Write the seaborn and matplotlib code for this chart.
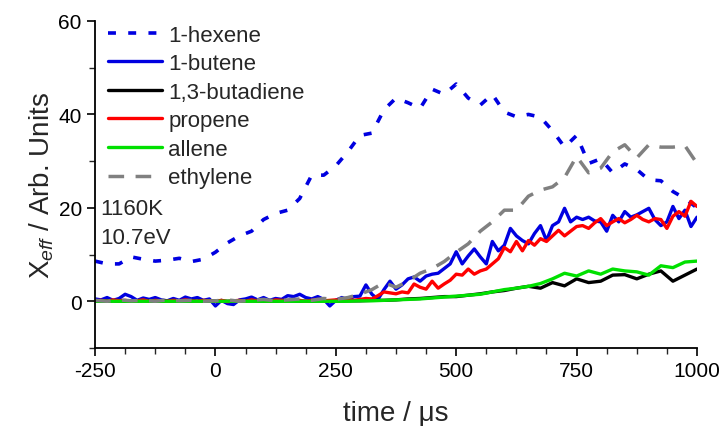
import numpy as np
import pandas as pd
import matplotlib
matplotlib.use("Agg")
import matplotlib.pyplot as plt
import seaborn as sns
from matplotlib.ticker import MultipleLocator

# ---------------- data ----------------
t_fine = np.arange(-250, 1000.1, 12.5)   # 12.5 us sampling
t_coarse = np.arange(-250, 1000.1, 25.0)  # 25 us sampling

hexene = [8.6, 8.0, 8.0, 9.5, 9.0, 8.6, 8.8, 9.2,
          8.5, 9.0, 10.5, 12.5, 14.0, 15.0, 17.5, 18.8,
          19.5, 22.0, 27.0, 27.0, 29.0, 32.0, 35.5, 36.0,
          41.0, 43.5, 42.5, 41.3, 45.4, 44.3, 46.5, 43.5,
          42.0, 44.3, 40.5, 39.5, 40.0, 39.4, 36.5, 33.0,
          35.5, 29.5, 30.5, 27.5, 29.4, 28.2, 26.0, 25.8,
          23.5, 22.0, 20.0]

butene = [0.5, 0.3, 0.8, 0.2, 0.6, 1.5, 1.0, 0.2,
          0.7, 0.4, 0.8, 0.3, 0.1, 0.6, 0.2, 0.9,
          0.5, 0.8, 0.2, 0.5, -1.0, 0.2, -0.5, -0.7,
          0.3, 0.5, 0.9, 0.3, 0.8, 0.2, 0.6, 0.4,
          1.2, 1.0, 1.5, 0.8, 0.5, 1.0, 0.4, -1.0,
          0.2, 0.8, 0.3, 1.0, 1.1, 3.5, 1.5, 0.4,
          2.5, 4.3, 2.6, 3.5, 4.8, 5.2, 4.3, 5.4,
          5.8, 6.0, 7.0, 8.0, 10.6, 8.0, 9.7, 11.2,
          9.5, 8.0, 12.8, 10.8, 12.0, 15.6, 14.0, 13.0,
          12.3, 14.5, 16.2, 13.0, 16.2, 17.0, 19.9, 17.0,
          18.0, 17.5, 18.0, 17.2, 17.0, 15.0, 18.4, 17.0,
          19.2, 18.0, 18.5, 19.2, 19.9, 17.5, 16.2, 17.0,
          20.3, 17.7, 19.5, 16.0, 18.0]

butadiene = [0.0, 0.1, 0.0, 0.0, 0.1, 0.0, 0.0, 0.1,
             0.0, 0.0, 0.1, 0.0, 0.0, 0.1, 0.0, 0.0,
             0.1, 0.0, 0.0, 0.1, 0.0, 0.1, 0.1, 0.2,
             0.2, 0.3, 0.5, 0.6, 0.8, 1.0, 1.0, 1.3,
             1.6, 2.0, 2.3, 2.8, 3.2, 2.8, 4.0, 3.3,
             4.8, 4.0, 4.3, 5.6, 5.7, 4.8, 5.8, 6.5,
             4.3, 5.6, 6.9]

propene = [0.1, 0.2, 0.0, 0.3, 0.1, 0.2, 0.0, 0.1,
           0.3, 0.0, 0.2, 0.1, 0.0, 0.2, 0.1, 0.3,
           0.1, 0.0, 0.2, 0.1, 0.0, 0.2, -0.1, 0.1,
           0.2, 0.0, 0.3, 0.1, 0.2, 0.0, 0.3, 0.2,
           0.1, 0.3, 0.2, 0.0, 0.2, 0.4, 0.1, 0.2,
           0.3, 0.1, 0.4, 0.2, 0.4, 0.6, 0.5, 1.2,
           2.0, 1.8, 1.6, 2.0, 1.8, 3.7, 3.0, 2.6,
           4.3, 2.8, 3.7, 4.5, 5.8, 5.6, 6.9, 5.8,
           6.5, 6.9, 8.0, 9.1, 11.5, 10.6, 12.8, 10.8,
           13.0, 12.0, 13.4, 12.8, 14.0, 15.2, 14.0, 15.0,
           16.0, 16.2, 15.6, 16.8, 17.7, 16.2, 17.0, 17.7,
           16.8, 17.5, 18.4, 17.5, 17.0, 17.7, 17.5, 15.6,
           18.2, 19.2, 18.2, 21.4, 20.3]

allene = [0.0, 0.0, 0.0, 0.0, 0.0, 0.0, 0.0, 0.0,
          0.0, 0.0, 0.0, 0.0, 0.0, 0.0, 0.0, 0.0,
          0.0, 0.0, 0.0, 0.0, 0.0, 0.0, 0.1, 0.1,
          0.2, 0.3, 0.4, 0.5, 0.7, 0.9, 1.1, 1.3,
          1.5, 2.0, 2.5, 2.8, 3.2, 3.8, 4.8, 6.0,
          5.4, 6.5, 5.8, 6.9, 6.5, 6.3, 5.6, 7.6,
          7.2, 8.4, 8.6]

ethylene = [0.2, 0.0, 0.3, 0.1, 0.2, 0.0, 0.3, 0.1,
            0.2, 0.0, 0.1, 0.3, 0.0, 0.2, 0.4, 0.1,
            0.3, 0.5, 0.2, 0.6, 0.4, 0.8, 1.5, 2.5,
            4.0, 3.0, 4.3, 6.0, 7.0, 8.5, 10.5, 12.3,
            15.0, 17.0, 19.5, 19.5, 22.5, 23.8, 24.5, 26.5,
            31.0, 27.5, 28.5, 32.0, 33.5, 30.7, 33.5, 33.0,
            33.0, 33.3, 29.5]

labels = ["1-hexene", "1-butene", "1,3-butadiene", "propene", "allene", "ethylene"]
annot = ["1160K", "10.7eV"]

# ---------------- style ----------------
sns.set_theme(style="ticks")
plt.rcParams["font.family"] = ["Liberation Sans", "DejaVu Sans"]
plt.rcParams["mathtext.fontset"] = "custom"
plt.rcParams["mathtext.rm"] = "Liberation Sans"
plt.rcParams["mathtext.it"] = "Liberation Sans:italic"
plt.rcParams["axes.unicode_minus"] = False

fig = plt.figure(figsize=(7.21, 4.27), dpi=100)
ax = fig.add_axes([0.1318, 0.1827, 0.8349, 0.7658])

series = [
    (t_coarse, hexene, labels[0], "#0000e0", (0, (2.2, 3.4)), 2.6),
    (t_fine, butene, labels[1], "#0000e0", "-", 2.4),
    (t_coarse, butadiene, labels[2], "#000000", "-", 2.4),
    (t_fine, propene, labels[3], "#ff0000", "-", 2.4),
    (t_coarse, allene, labels[4], "#00e000", "-", 2.4),
    (t_coarse, ethylene, labels[5], "#808080", (0, (4.5, 3.3)), 2.5),
]
for tt, vv, lab, col, ls, lw in series:
    df = pd.DataFrame({"time": tt, "value": vv})
    sns.lineplot(data=df, x="time", y="value", ax=ax, color=col,
                 linestyle=ls, linewidth=lw, label=lab)

ax.set_xlim(-250, 1000)
ax.set_ylim(-10, 60)
ax.xaxis.set_major_locator(MultipleLocator(250))
ax.xaxis.set_minor_locator(MultipleLocator(62.5))
ax.yaxis.set_major_locator(MultipleLocator(20))
ax.yaxis.set_minor_locator(MultipleLocator(10))
ax.tick_params(axis="both", which="major", direction="out", length=6, width=1.2,
               labelsize=15, colors="black")
ax.tick_params(axis="both", which="minor", direction="out", length=4, width=1.0)
for s in ["top", "right"]:
    ax.spines[s].set_visible(False)
for s in ["left", "bottom"]:
    ax.spines[s].set_linewidth(1.3)
    ax.spines[s].set_color("black")

ax.set_xlabel("time / \u03bcs", fontsize=20, labelpad=14)
ax.set_ylabel(r"X$_{\mathit{eff}}$ / Arb. Units", fontsize=20, labelpad=2)

leg = ax.legend(loc="upper left", bbox_to_anchor=(0.0, 1.03), frameon=False,
                fontsize=16, handlelength=2.4, handletextpad=0.3,
                labelspacing=0.34, borderaxespad=0.2)

ax.text(-240, 19.8, annot[0], fontsize=16, va="center", ha="left")
ax.text(-240, 13.6, annot[1], fontsize=16, va="center", ha="left")

fig.savefig("out.png", dpi=100)
